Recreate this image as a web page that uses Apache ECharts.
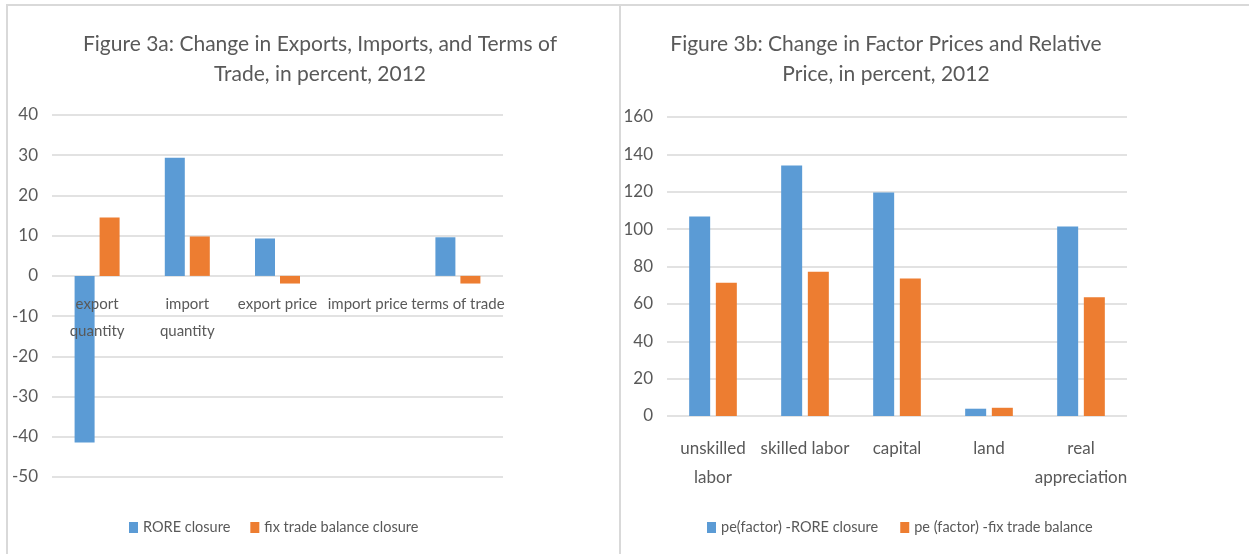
<!DOCTYPE html>
<html>
<head>
<meta charset="utf-8">
<script src="https://cdn.jsdelivr.net/npm/echarts@6/dist/echarts.min.js"></script>
<style>
  html, body { margin: 0; padding: 0; background: #fff; }
  #wrap { position: relative; width: 1249px; height: 554px; }
  #main { position: absolute; left: 0; top: 0; width: 1249px; height: 554px; }
  .line { position: absolute; background: #d9d9d9; }
</style>
</head>
<body>
<div id="wrap">
  <div class="line" style="left:6px; top:4px; width:1243px; height:2px;"></div>
  <div class="line" style="left:6px; top:4px; width:2px; height:550px;"></div>
  <div class="line" style="left:619px; top:4px; width:2px; height:550px;"></div>
  <div id="main"></div>
</div>
<script>
// 图3a 数据
const tradeCats = ['export\nquantity', 'import\nquantity', 'export price', 'import price', 'terms of trade']
const tradeRore = [-41.4, 29.4, 9.3, 0, 9.6]
const tradeFix = [14.5, 9.8, -1.9, 0, -1.9]

// 图3b 数据
const factorCats = ['unskilled\nlabor', 'skilled labor', 'capital', 'land', 'real\nappreciation']
const factorRore = [106.8, 134, 119.6, 3.9, 101.4]
const factorFix = [71.3, 77.2, 73.6, 4.4, 63.6]

const font = 'Lato, sans-serif'
const grey = '#595959'
const blue = '#5B9BD5'
const orange = '#ED7D31'

let myChart = echarts.init(document.getElementById('main'))

const yAxisBase = {
  type: 'value',
  axisLine: { show: false },
  axisTick: { show: false },
  axisLabel: { color: grey, fontSize: 17, fontFamily: font, margin: 14 },
  splitLine: { lineStyle: { color: '#d9d9d9', width: 1.5 } },
}

const xAxisBase = {
  type: 'category',
  z: 5, // 标签要盖在柱子上面
  axisTick: { show: false },
  axisLine: { show: false },
}

let option = {
  animation: false,
  title: [
    {
      text: 'Figure 3a: Change in Exports, Imports, and Terms of\nTrade, in percent, 2012',
      left: 315,
      top: 24,
      textAlign: 'center',
      textStyle: { color: grey, fontSize: 21, fontWeight: 'normal', fontFamily: font, lineHeight: 30 },
    },
    {
      text: 'Figure 3b: Change in Factor Prices and Relative\nPrice, in percent, 2012',
      left: 881,
      top: 24,
      textAlign: 'center',
      textStyle: { color: grey, fontSize: 21, fontWeight: 'normal', fontFamily: font, lineHeight: 30 },
    },
  ],
  legend: [
    {
      data: ['RORE closure', 'fix trade balance closure'],
      left: 124,
      top: 515,
      itemWidth: 9,
      itemHeight: 11,
      itemGap: 20,
      icon: 'rect',
      textStyle: { color: grey, fontSize: 14.5, fontFamily: font },
    },
    {
      data: ['pe(factor) -RORE closure', 'pe (factor) -fix trade balance'],
      left: 702,
      top: 515,
      itemWidth: 9,
      itemHeight: 11,
      itemGap: 22,
      icon: 'rect',
      textStyle: { color: grey, fontSize: 14.5, fontFamily: font },
    },
  ],
  grid: [
    { left: 52, right: 746, top: 115, bottom: 77 },
    { left: 667, right: 122, top: 117, bottom: 138 },
  ],
  xAxis: [
    {
      ...xAxisBase,
      gridIndex: 0,
      data: tradeCats,
      // 轴放到0的位置
      offset: -202,
      axisLabel: { color: grey, fontSize: 15, fontFamily: font, interval: 0, margin: 16, lineHeight: 27 },
    },
    {
      ...xAxisBase,
      gridIndex: 1,
      data: factorCats,
      axisLabel: { color: grey, fontSize: 17, fontFamily: font, interval: 0, margin: 18, lineHeight: 29 },
    },
  ],
  yAxis: [
    { ...yAxisBase, gridIndex: 0, min: -50, max: 40, interval: 10 },
    { ...yAxisBase, gridIndex: 1, min: 0, max: 160, interval: 20 },
  ],
  series: [
    {
      name: 'RORE closure',
      type: 'bar',
      xAxisIndex: 0,
      yAxisIndex: 0,
      data: tradeRore,
      barWidth: 20,
      barGap: '25%',
      itemStyle: { color: blue },
    },
    {
      name: 'fix trade balance closure',
      type: 'bar',
      xAxisIndex: 0,
      yAxisIndex: 0,
      data: tradeFix,
      barWidth: 20,
      barGap: '25%',
      itemStyle: { color: orange },
    },
    {
      name: 'pe(factor) -RORE closure',
      type: 'bar',
      xAxisIndex: 1,
      yAxisIndex: 1,
      data: factorRore,
      barWidth: 21,
      barGap: '27%',
      itemStyle: { color: blue },
    },
    {
      name: 'pe (factor) -fix trade balance',
      type: 'bar',
      xAxisIndex: 1,
      yAxisIndex: 1,
      data: factorFix,
      barWidth: 21,
      barGap: '27%',
      itemStyle: { color: orange },
    },
  ],
}

myChart.setOption(option)
</script>
</body>
</html>
